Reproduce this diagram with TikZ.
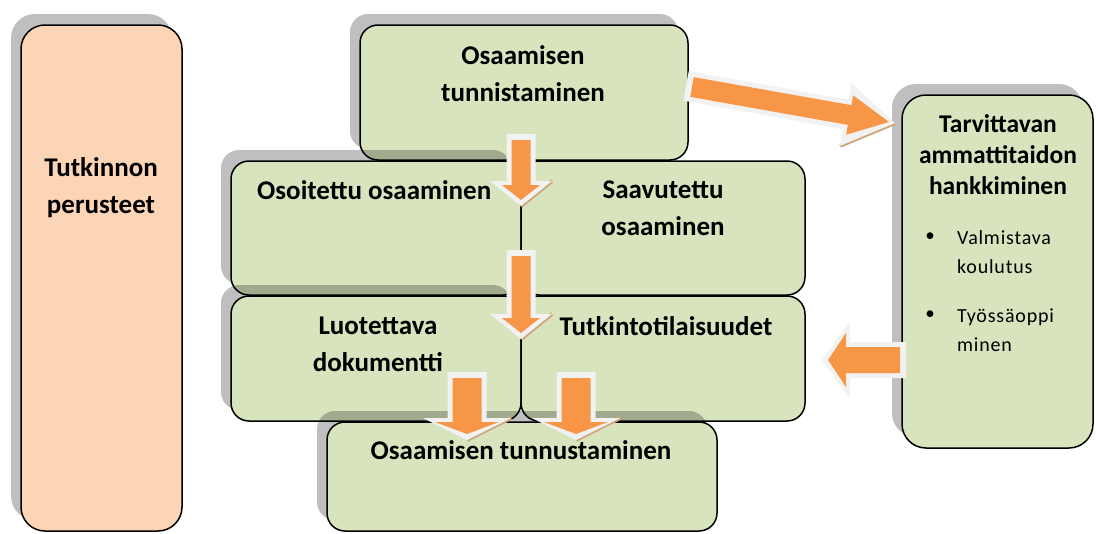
\documentclass[tikz,border=0pt]{standalone}
\usepackage{fontspec}
\setmainfont{Carlito}
\usepackage{tikz}
\usetikzlibrary{calc,shadows,positioning}
\definecolor{leaf}{RGB}{215,228,189}
\definecolor{peach}{RGB}{251,213,181}
\definecolor{carrot}{RGB}{247,150,70}
\definecolor{rim}{RGB}{242,242,242}
\definecolor{bark}{RGB}{205,170,125}

\tikzset{
  box/.style={draw, line width=1.5pt, rounded corners=18pt, fill=leaf, inner sep=0pt},
  lifted/.style={drop shadow={shadow xshift=-10pt, shadow yshift=11pt, fill=black, opacity=0.25}},
  title/.style={font=\bfseries\fontsize{27}{37}\selectfont, align=center, inner sep=0pt},
  small title/.style={font=\bfseries\fontsize{25.5}{31}\selectfont, align=center, inner sep=0pt},
  item/.style={font=\fontsize{20}{29.5}\selectfont\addfontfeatures{LetterSpace=4}, align=left, inner sep=0pt}
}

% block arrow: style, from, to, half shaft, half head, head length
\newcommand{\arrowpoly}[6]{%
  \coordinate (ab) at ($(#3)!#6pt!(#2)$);
  \fill[#1] ($(#2)!#4pt!90:(#3)$) -- ($(ab)!#4pt!90:(#3)$) -- ($(ab)!#5pt!90:(#3)$) -- (#3)
    -- ($(ab)!#5pt!-90:(#3)$) -- ($(ab)!#4pt!-90:(#3)$) -- ($(#2)!#4pt!-90:(#3)$) -- cycle;
}
% orange arrow with a light rim round it, #6 = side of the brown edge (0: none)
\newcommand{\fatarrow}[6]{%
  \pgfmathsetmacro\rimh{#3+5}\pgfmathsetmacro\rimH{#4+12}\pgfmathsetmacro\rimL{#5+10}
  \coordinate (rs) at ($(#1)!-6pt!(#2)$);
  \coordinate (re) at ($(#2)!-6pt!(#1)$);
  \ifnum#6=0\else
    \coordinate (rb) at ($(re)!\rimL pt!(rs)$);
    \draw[bark, line width=4pt] ($(rb)!\rimH pt!#6:(re)$) -- (re);
  \fi
  \arrowpoly{rim}{rs}{re}{\rimh}{\rimH}{\rimL}
  \arrowpoly{carrot}{#1}{#2}{#3}{#4}{#5}
}

\begin{document}
\begin{tikzpicture}[x=1pt, y=-1pt]
\useasboundingbox (0,0) rectangle (1098,533);
\node [box, lifted, fill=peach, rounded corners=24pt, minimum width=161pt, minimum height=506pt] (basis) at (101.5,278) {};
\node [box, lifted, minimum width=328pt, minimum height=135pt] (recog) at (524,92.5) {};
\node [box, lifted, minimum width=290pt, minimum height=134pt] (shown) at (376,228) {};
\node [box, minimum width=284pt, minimum height=134pt] (gained) at (663,228) {};
\node [box, lifted, minimum width=290pt, minimum height=125pt] (doc) at (376,358.5) {};
\node [box, minimum width=284pt, minimum height=125pt] (exam) at (663,358.5) {};
\node [box, lifted, minimum width=390pt, minimum height=109pt] (accept) at (522,476.5) {};
\node [box, lifted, rounded corners=24pt, minimum width=191pt, minimum height=353pt] (acquire) at (997.5,271.5) {};

% arrows
\coordinate (a1s) at (521,140); \coordinate (a1e) at (521,200);
\coordinate (a2s) at (521,256); \coordinate (a2e) at (521,333);
\coordinate (a3s) at (467,378); \coordinate (a3e) at (467,434);
\coordinate (a4s) at (576,378); \coordinate (a4e) at (576,434);
\coordinate (a5s) at (692,87); \coordinate (a5e) at (889,122);
\coordinate (a6s) at (900,360); \coordinate (a6e) at (828,360);
\fatarrow{a1s}{a1e}{9.5}{19}{15}{90}
\fatarrow{a2s}{a2e}{9.5}{19}{15}{90}
\fatarrow{a3s}{a3e}{14.5}{32}{12}{90}
\fatarrow{a4s}{a4e}{14.5}{32}{12}{90}
\fatarrow{a5s}{a5e}{10}{20}{40}{-90}
\fatarrow{a6s}{a6e}{13}{27}{18}{0}

\node [title] (basis-text) at (101,188) {Tutkinnon\\perusteet};
\node [title] (recog-text) at (523,74) {Osaamisen\\tunnistaminen};
\node [title, anchor=west] (shown-text) at (257,190) {Osoitettu osaaminen};
\node [title] (gained-text) at (663,208) {Saavutettu\\osaaminen};
\node [title] (doc-text) at (378,344) {Luotettava\\dokumentti};
\node [title] (exam-text) at (666,326) {Tutkintotilaisuudet};
\node [title] (accept-text) at (521,450) {Osaamisen tunnustaminen};
\node [small title] (acquire-text) at (998,155) {Tarvittavan\\ammattitaidon\\hankkiminen};
\node [inner sep=0pt, font=\fontsize{19}{19}\selectfont] (dot1) at (930,237) {\textbullet};
\node [item, anchor=west] (prep) at (957,252) {Valmistava\\koulutus};
\node [inner sep=0pt, font=\fontsize{19}{19}\selectfont] (dot2) at (930,315) {\textbullet};
\node [item, anchor=west] (work) at (957,330) {Työssäoppi\\minen};
\end{tikzpicture}
\end{document}
